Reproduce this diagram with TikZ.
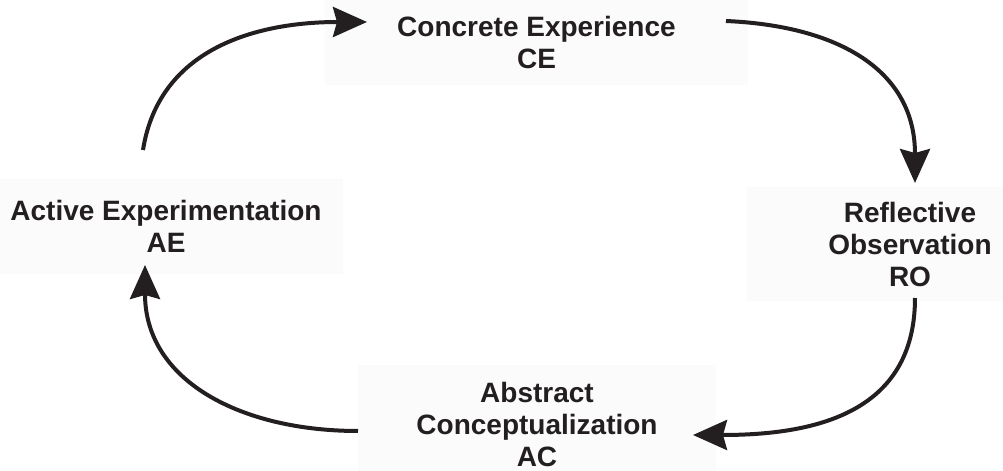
\documentclass[tikz,border=0pt]{standalone}
\usepackage{fontspec}
\setmainfont{Liberation Sans}
\usetikzlibrary{arrows.meta}
\definecolor{ink}{RGB}{35,31,32}
\tikzset{
    stage/.style={
           rectangle,
           fill=black!1.5,
           draw=none,
           inner sep=2pt,
           outer sep=0pt,
           align=center,
           text=ink,
           font=\fontsize{14}{16}\selectfont\bfseries,
           },
}

\begin{document}
\begin{tikzpicture}[
  x=0.5pt,y=0.5pt,
  ->,>={Stealth[length=17pt,width=15pt,inset=2pt]},
  cycle/.style={color=ink,line width=2pt}]
\useasboundingbox (0,0) rectangle (1003,471);
\node[stage,minimum width=211.5pt,minimum height=43pt](ce) at (536.5,429){Concrete Experience\\CE};
\node[stage,minimum width=163pt,minimum height=57pt](ro) at (910,227){Reflective\\Observation\\RO};
\node[stage,minimum width=179pt,minimum height=59pt](ac) at (537,47){Abstract\\Conceptualization\\AC};
\node[stage,minimum width=177pt,minimum height=47.5pt](ae) at (166,244.5){Active Experimentation\\AE};

\path[cycle]
      ([xshift=-11.5pt,yshift=14.5pt]ae.north) edge[out=81,in=180,looseness=1.05] ([xshift=21pt,yshift=10pt]ce.west)
      ([xshift=-11pt,yshift=10.5pt]ce.east) edge[out=-2.5,in=90,looseness=1.16] ([xshift=2.5pt,yshift=2pt]ro.north)
      ([xshift=2.5pt,yshift=1.5pt]ro.south) edge[out=-90,in=0,looseness=1.15] ([xshift=-11.5pt,yshift=-5.5pt]ac.east)
      ([yshift=-3.5pt]ac.west) edge[out=180,in=-90,looseness=1.1] ([xshift=-10.5pt,yshift=4.5pt]ae.south);
\end{tikzpicture}
\end{document}
